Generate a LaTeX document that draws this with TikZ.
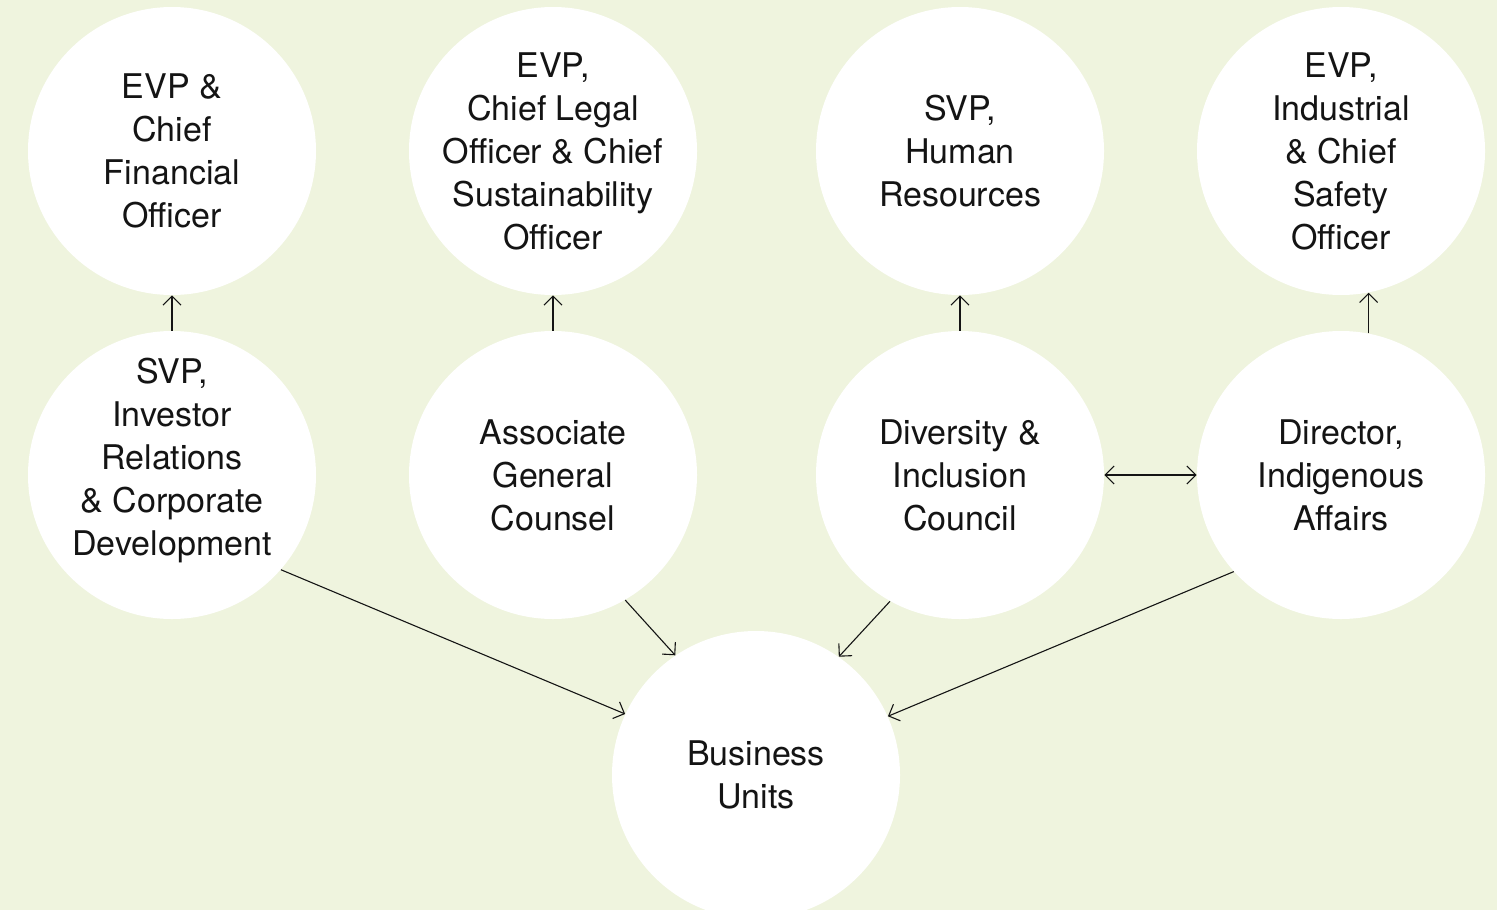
\documentclass[tikz,border=0pt]{standalone}
\usepackage{fontspec}
\setmainfont{TeX Gyre Heros}
\usetikzlibrary{arrows.meta}
\definecolor{bggreen}{RGB}{239,244,222}
\definecolor{ink}{RGB}{20,20,20}

\begin{document}
\begin{tikzpicture}[x=0.5pt,y=-0.5pt,>={Straight Barb[length=4.5pt,width=9pt]},
  role/.style={circle,fill=white,minimum size=144pt,inner sep=0pt},
  rtext/.style={align=center,text=ink,inner sep=0pt,font=\fontsize{17}{21.5}\selectfont},
  link/.style={draw=ink,line width=0.55pt}]
\useasboundingbox (0,0) rectangle (1497,910);
\clip (0,0) rectangle (1497,910);
\fill [bggreen] (0,0) rectangle (1497,910);

% top row
\node [role,label={[rtext]center:EVP \&\\Chief\\Financial\\Officer}] (cfo) at (172,151) {};
\node [role,label={[rtext]center:EVP,\\Chief Legal\\Officer \& Chief\\Sustainability\\Officer}] (clo) at (553,151) {};
\node [role,label={[rtext]center:SVP,\\Human\\Resources}] (hr) at (960,151) {};
\node [role,label={[rtext]center:EVP,\\Industrial\\\& Chief\\Safety\\Officer}] (cso) at (1341,151) {};

% second row
\node [role,label={[rtext,yshift=7.5pt]center:SVP,\\Investor\\Relations\\\& Corporate\\Development}] (ir) at (172,475) {};
\node [role,label={[rtext]center:Associate\\General\\Counsel}] (agc) at (553,475) {};
\node [role,label={[rtext]center:Diversity \&\\Inclusion\\Council}] (dic) at (960,475) {};
\node [role,label={[rtext]center:Director,\\Indigenous\\Affairs}] (dia) at (1341,475) {};

\node [role,label={[rtext]center:Business\\Units}] (bu) at (756,775) {};

\draw [link,->] (ir.north) -- (cfo.south);
\draw [link,->] (agc.north) -- (clo.south);
\draw [link,->] (dic.north) -- (hr.south);
\draw [link,->] (dia.79.6) -- (cso.-79.6);
\draw [link,<->] (dic.east) -- (dia.west);

\draw [link,->] (ir.-41.4) -- (bu.155);
\draw [link,->] (agc.-60.4) -- (bu.124.2);
\draw [link,->] (dic.-119.6) -- (bu.55.4);
\draw [link,->] (dia.-138.4) -- (bu.24.8);

\end{tikzpicture}
\end{document}
